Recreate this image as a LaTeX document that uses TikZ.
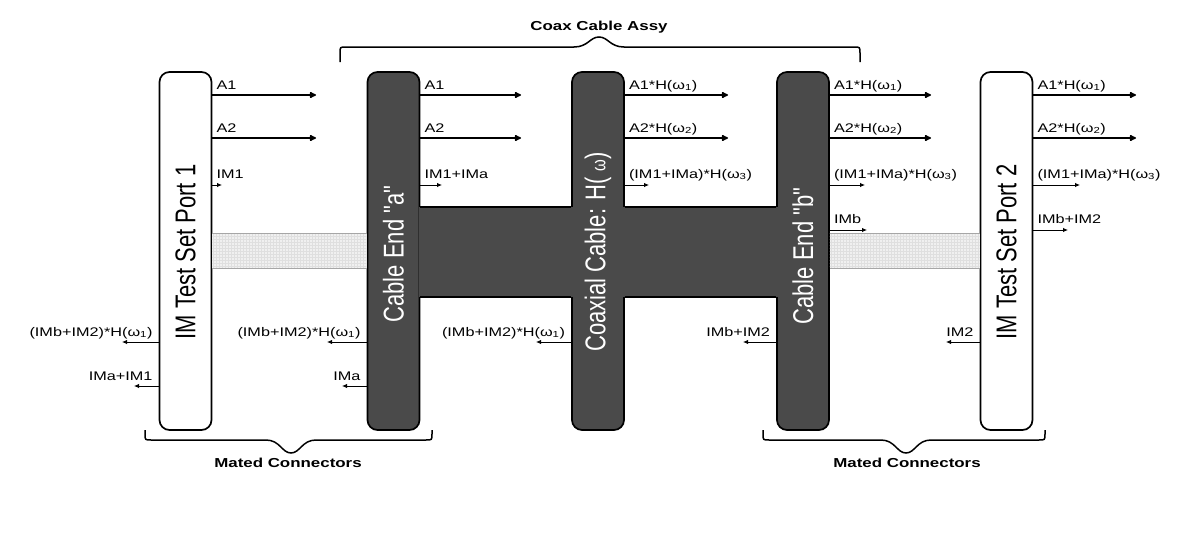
\documentclass[tikz,border=0pt]{standalone}
\usepackage{fontspec}
\setmainfont{Liberation Sans}[FakeStretch=1.3]
\newfontfamily\bigsans{Liberation Sans}
\usetikzlibrary{arrows.meta,patterns,calc}
\definecolor{boxdark}{HTML}{4A4A4A}
\definecolor{hatchfill}{HTML}{F0F0F0}
\begin{document}
\begin{tikzpicture}[x=1pt,y=-1pt,
 box/.style={draw=black, line width=1.7pt, rounded corners=10pt, minimum width=52pt, minimum height=358pt, inner sep=0pt},
 lightbox/.style={box, fill=white},
 darkbox/.style={box, fill=boxdark},
 longarr/.style={line width=1.8pt, -{Latex[length=8pt,width=7.5pt,round]}},
 shortarr/.style={line width=0.9pt, -{Latex[length=5pt,width=4.5pt]}},
 lab/.style={font=\fontsize{12.5}{14}\selectfont, inner sep=0pt},
 bigtxt/.style={font=\bigsans\fontsize{22}{24}\selectfont, inner sep=0pt},
 bracepath/.style={line width=1.5pt},
 bracelab/.style={font=\bfseries\fontsize{13}{15}\selectfont, inner sep=0pt},
 bandedge/.style={line width=1.5pt},
 hatchedge/.style={line width=1pt, draw=gray!70}
]
\useasboundingbox (0,0) rectangle (1186,554);

% band reference coordinates
\coordinate (bt) at (0,207);
\coordinate (bb) at (0,297);
\coordinate (ht) at (0,233);
\coordinate (hb) at (0,268);

% boxes
\node[lightbox] (p1) at (185.5,251) {};
\node[darkbox]  (ca) at (393.5,251) {};
\node[darkbox]  (cc) at (598,251) {};
\node[darkbox]  (cb) at (803,251) {};
\node[lightbox] (p2) at (1006.5,251) {};

% hatched bands (mated connectors)
\fill[hatchfill] (p1.east |- ht) rectangle (ca.west |- hb);
\fill[pattern=grid, pattern color=gray!25] (p1.east |- ht) rectangle (ca.west |- hb);
\draw[hatchedge] (p1.east |- ht) -- (ca.west |- ht);
\draw[hatchedge] (p1.east |- hb) -- (ca.west |- hb);
\fill[hatchfill] (cb.east |- ht) rectangle (p2.west |- hb);
\fill[pattern=grid, pattern color=gray!25] (cb.east |- ht) rectangle (p2.west |- hb);
\draw[hatchedge] (cb.east |- ht) -- (p2.west |- ht);
\draw[hatchedge] (cb.east |- hb) -- (p2.west |- hb);

% dark cable band
\fill[boxdark] ([xshift=-1.4pt]ca.east |- bt) rectangle ([xshift=1.4pt]cb.west |- bb);
\draw[bandedge] (ca.east |- bt) -- (cc.west |- bt);
\draw[bandedge] (cc.east |- bt) -- (cb.west |- bt);
\draw[bandedge] (ca.east |- bb) -- (cc.west |- bb);
\draw[bandedge] (cc.east |- bb) -- (cb.west |- bb);

% box texts
\node[bigtxt] (p1t) at (185.5,252) {\rotatebox{90}{\scalebox{1}[1.3]{IM Test Set Port 1}}};
\node[bigtxt, text=white] (cat) at (393.5,254) {\rotatebox{90}{\scalebox{1}[1.3]{Cable End "a"}}};
\node[bigtxt, text=white] (cct) at (598,252) {\rotatebox{90}{\scalebox{1}[1.3]{Coaxial Cable: H( {\fontsize{15}{15}\selectfont ω})}}};
\node[bigtxt, text=white] (cbt) at (803,256) {\rotatebox{90}{\scalebox{1}[1.3]{Cable End "b"}}};
\node[bigtxt] (p2t) at (1006.5,252) {\rotatebox{90}{\scalebox{1}[1.3]{IM Test Set Port 2}}};

% long right arrows
\foreach \b/\tip/\y/\t/\n in {
  p1/316/95/{A1}/1, p1/316/138/{A2}/2,
  ca/521/95/{A1}/1, ca/521/138/{A2}/2,
  cc/728/95/{A1*H(ω\textsubscript{1})}/1, cc/728/138/{A2*H(ω\textsubscript{2})}/2,
  cb/931/95/{A1*H(ω\textsubscript{1})}/1, cb/931/138/{A2*H(ω\textsubscript{2})}/2,
  p2/1136/95/{A1*H(ω\textsubscript{1})}/1, p2/1136/138/{A2*H(ω\textsubscript{2})}/2}{
  \coordinate (t\b\n) at (\tip,\y);
  \draw[longarr] (\b.east |- t\b\n) -- (t\b\n);
  \path (\b.east |- t\b\n) ++(4,-6) node[lab, anchor=base west] (l\b\n) {\t};
}

% short right arrows
\foreach \b/\tip/\y/\t/\n in {
  p1/222/185/{IM1}/3,
  ca/442/185/{IM1+IMa}/3,
  cc/649/185/{(IM1+IMa)*H(ω\textsubscript{3})}/3,
  cb/865/185/{(IM1+IMa)*H(ω\textsubscript{3})}/3,
  cb/867/230/{IMb}/4,
  p2/1080/185/{(IM1+IMa)*H(ω\textsubscript{3})}/3,
  p2/1068/230/{IMb+IM2}/4}{
  \coordinate (t\b\n) at (\tip,\y);
  \draw[shortarr] (\b.east |- t\b\n) -- (t\b\n);
  \path (\b.east |- t\b\n) ++(4,-7) node[lab, anchor=base west] (l\b\n) {\t};
}

% short left arrows
\foreach \b/\tip/\y/\t/\n in {
  p1/122/342/{(IMb+IM2)*H(ω\textsubscript{1})}/5,
  p1/134/386/{IMa+IM1}/6,
  ca/327/342/{(IMb+IM2)*H(ω\textsubscript{1})}/5,
  ca/342/386/{IMa}/6,
  cc/536/342/{(IMb+IM2)*H(ω\textsubscript{1})}/5,
  cb/743/342/{IMb+IM2}/5,
  p2/946/342/{IM2}/5}{
  \coordinate (t\b\n) at (\tip,\y);
  \draw[shortarr] (\b.west |- t\b\n) -- (t\b\n);
  \path (\b.west |- t\b\n) ++(-6,-6) node[lab, anchor=base east] (l\b\n) {\t};
}

% braces
\draw[bracepath] (340,62) -- (340,53) .. controls (340,47) .. (346,47) -- (574,47)
  .. controls (588,47) and (590,37) .. (599,37) .. controls (608,37) and (610,47) .. (624,47)
  -- (854,47) .. controls (860,47) .. (860,53) -- (860,62);
\node[bracelab] (tbl) at (599,27) {Coax Cable Assy};

\draw[bracepath] (145,430) -- (145,434) .. controls (145,440) .. (151,440) -- (266,440)
  .. controls (280,440) and (282,453) .. (291,453) .. controls (300,453) and (302,440) .. (316,440)
  -- (426,440) .. controls (432,440) .. (432,434) -- (432,430);
\node[bracelab] (lbl) at (288,463) {Mated Connectors};

\draw[bracepath] (763,430) -- (763,434) .. controls (763,440) .. (769,440) -- (881,440)
  .. controls (895,440) and (897,453) .. (906,453) .. controls (915,453) and (917,440) .. (931,440)
  -- (1039,440) .. controls (1045,440) .. (1045,434) -- (1045,430);
\node[bracelab] (rbl) at (907,463) {Mated Connectors};
\end{tikzpicture}
\end{document}
